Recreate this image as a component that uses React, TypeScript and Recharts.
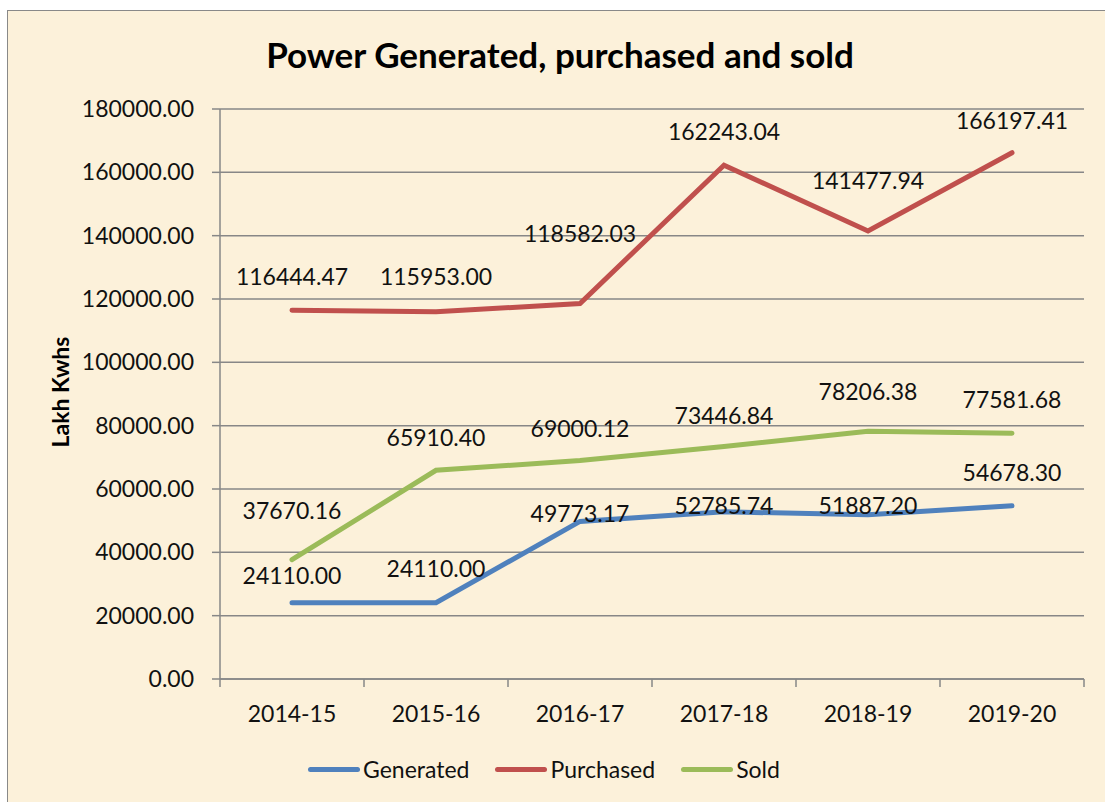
import React from "react";
import { LineChart, Line, XAxis, YAxis, CartesianGrid, LabelList } from "recharts";

const YEARS = ["2014-15", "2015-16", "2016-17", "2017-18", "2018-19", "2019-20"];
const GENERATED = [24110.0, 24110.0, 49773.17, 52785.74, 51887.2, 54678.3];
const PURCHASED = [116444.47, 115953.0, 118582.03, 162243.04, 141477.94, 166197.41];
const SOLD = [37670.16, 65910.4, 69000.12, 73446.84, 78206.38, 77581.68];
const Y_TICKS = [0, 20000, 40000, 60000, 80000, 100000, 120000, 140000, 160000, 180000];

// label nudges (px above each point)
const GEN_DY = [-28, -35, -8, -7, -10, -34];
const PUR_DY = [-34, -36, -70, -34, -51, -33];
const SOLD_DY = [-50, -33, -32, -31, -40, -34];

const FONT = "Lato, 'Open Sans', sans-serif";
const C_GEN = "#4F81BD";
const C_PUR = "#C0504D";
const C_SOLD = "#9BBB59";
const GRID = "#878787";

const data = YEARS.map((year, i) => ({
  year,
  pos: i + 0.5,
  generated: GENERATED[i],
  purchased: PURCHASED[i],
  sold: SOLD[i],
}));

const makeLabel = (dys: number[]) => (props: any) => {
  const { x, y, value, index } = props;
  return (
    <text x={x} y={y + dys[index]} textAnchor="middle" dominantBaseline="central"
      fontSize={23} fontFamily={FONT} fill="#111">
      {Number(value).toFixed(2)}
    </text>
  );
};

const LEGEND = [
  { name: "Generated", color: C_GEN },
  { name: "Purchased", color: C_PUR },
  { name: "Sold", color: C_SOLD },
];

export default function App() {
  return (
    <div style={{
      position: "absolute", left: 7, top: 10, width: 1110, height: 800,
      border: "1px solid #898989", background: "#FCF1DA", overflow: "hidden", fontFamily: FONT,
    }}>
      <div style={{
        position: "absolute", left: 0, width: 1104, top: 22, textAlign: "center",
        fontSize: 35, fontWeight: 700, color: "#000",
      }}>
        Power Generated, purchased and sold
      </div>
      <LineChart width={1096} height={790} data={data}
        margin={{ top: 98, right: 20, left: 0, bottom: 72 }}
        style={{ position: "absolute", left: 0, top: 0 }}>
        <CartesianGrid vertical={false} stroke={GRID} strokeWidth={1.5} />
        <XAxis dataKey="pos" type="number" domain={[0, 6]} ticks={[0, 1, 2, 3, 4, 5, 6]}
          tickFormatter={() => ""} tickSize={8} height={10}
          axisLine={{ stroke: GRID, strokeWidth: 1.5 }} tickLine={{ stroke: GRID, strokeWidth: 1.5 }} />
        <XAxis xAxisId="cat" dataKey="year" scale="band" height={40} axisLine={false} tickLine={false}
          tickSize={0} tickMargin={17} interval={0}
          tick={{ fontSize: 23, fill: "#111", fontFamily: FONT }} />
        <YAxis width={212} domain={[0, 180000]} ticks={Y_TICKS} interval={0}
          tickFormatter={(v: number) => v.toFixed(2)} tickSize={8} tickMargin={18}
          axisLine={{ stroke: GRID, strokeWidth: 1.5 }} tickLine={{ stroke: GRID, strokeWidth: 1.5 }}
          tick={{ fontSize: 23, fill: "#111", fontFamily: FONT }}
          label={{
            content: () => (
              <text x={52} y={381} transform="rotate(-90 52 381)" textAnchor="middle"
                dominantBaseline="central" fontSize={23} fontWeight={700} fontFamily={FONT} fill="#000">
                Lakh Kwhs
              </text>
            ),
          }} />
        <Line dataKey="generated" stroke={C_GEN} strokeWidth={5} dot={false} isAnimationActive={false} strokeLinecap="round">
          <LabelList dataKey="generated" content={makeLabel(GEN_DY)} />
        </Line>
        <Line dataKey="purchased" stroke={C_PUR} strokeWidth={5} dot={false} isAnimationActive={false} strokeLinecap="round">
          <LabelList dataKey="purchased" content={makeLabel(PUR_DY)} />
        </Line>
        <Line dataKey="sold" stroke={C_SOLD} strokeWidth={5} dot={false} isAnimationActive={false} strokeLinecap="round">
          <LabelList dataKey="sold" content={makeLabel(SOLD_DY)} />
        </Line>
      </LineChart>
      <div style={{
        position: "absolute", left: 300, top: 744, display: "flex", alignItems: "center",
        fontSize: 23, color: "#111",
      }}>
        {LEGEND.map((l) => (
          <div key={l.name} style={{ display: "flex", alignItems: "center", marginRight: 26 }}>
            <span style={{ width: 52, height: 5, borderRadius: 3, background: l.color, marginRight: 3 }} />
            <span>{l.name}</span>
          </div>
        ))}
      </div>
    </div>
  );
}
